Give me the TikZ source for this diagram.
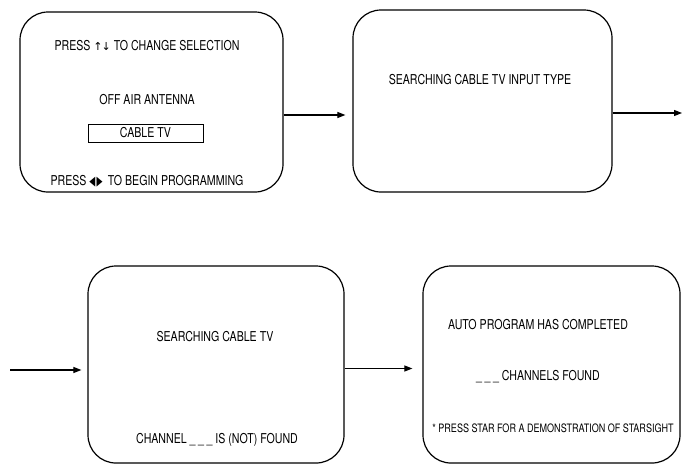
\documentclass[tikz,border=0pt]{standalone}
\usepackage{fontspec}
\setmainfont{TeX Gyre Heros}[FakeStretch=0.78]
\newfontfamily\symf{DejaVu Sans}
\usetikzlibrary{arrows.meta,calc}
\tikzset{
  scr/.style={draw, line width=1.2pt, rounded corners=28pt, inner sep=0pt},
  txt/.style={inner sep=0pt, font=\fontsize{13.6}{15}\selectfont},
  small/.style={inner sep=0pt, font=\fontsize{11.6}{13}\selectfont},
  arr/.style={line width=1.1pt, -{Triangle[length=8pt,width=6pt]}},
  selbox/.style={draw, line width=0.8pt, minimum width=115pt, minimum height=18pt, inner sep=0pt, font=\fontsize{13.6}{15}\selectfont}
}
\newcommand{\blanks}{\_\kern2.5pt\_\kern2.5pt\_}
\newcommand{\lrkeys}{{\symf\fontsize{13}{14}\selectfont\scalebox{0.6}[1]{◀}\kern1.2pt\scalebox{0.6}[1]{▶}}}
\begin{document}
\begin{tikzpicture}[x=1pt,y=-1pt]
\useasboundingbox (0,0) rectangle (687,467);
% screens
\node[scr, minimum width=263pt, minimum height=180pt] (b1) at (151.5,102) {};
\node[scr, minimum width=259pt, minimum height=182pt] (b2) at (482.5,101) {};
\node[scr, minimum width=256pt, minimum height=197pt] (b3) at (216,364.5) {};
\node[scr, minimum width=257pt, minimum height=197pt] (b4) at (551.5,364.5) {};
% screen 1 text
\node[txt] (t11) at (147,46) {PRESS {\symf\fontsize{11}{13}\selectfont ↑\kern-1pt↓} TO CHANGE SELECTION};
\node[txt] (t12) at (147,100) {OFF AIR ANTENNA};
\node[selbox] (t13) at (145.5,133) {CABLE TV};
\node[txt] (t14) at (147,181) {PRESS \lrkeys\ \,TO BEGIN PROGRAMMING};
% screen 2 text
\node[txt] (t21) at (480,80) {SEARCHING CABLE TV INPUT TYPE};
% screen 3 text
\node[txt] (t31) at (215,337) {SEARCHING CABLE TV};
\node[txt] (t32) at (217,440) {CHANNEL \blanks\ IS (NOT) FOUND};
% screen 4 text
\node[txt] (t41) at (538,325) {AUTO PROGRAM HAS COMPLETED};
\node[txt] (t42) at (538,377) {\blanks\ CHANNELS FOUND};
\node[small] (t43) at (553,428) {* PRESS STAR FOR A DEMONSTRATION OF STARSIGHT};
% connectors
\coordinate (e2) at (682,113);
\coordinate (s3) at (10,370);
\draw[arr, shorten >=7pt] ([yshift=-13pt]b1.east) -- ([yshift=-13pt]b1.east -| b2.west);
\draw[arr] ([yshift=-12pt]b2.east) -- (e2);
\draw[arr, shorten >=6pt] (s3) -- (s3 -| b3.west);
\draw[arr, shorten >=10pt] ([yshift=-4pt]b3.east) -- ([yshift=-4pt]b3.east -| b4.west);
\end{tikzpicture}
\end{document}
